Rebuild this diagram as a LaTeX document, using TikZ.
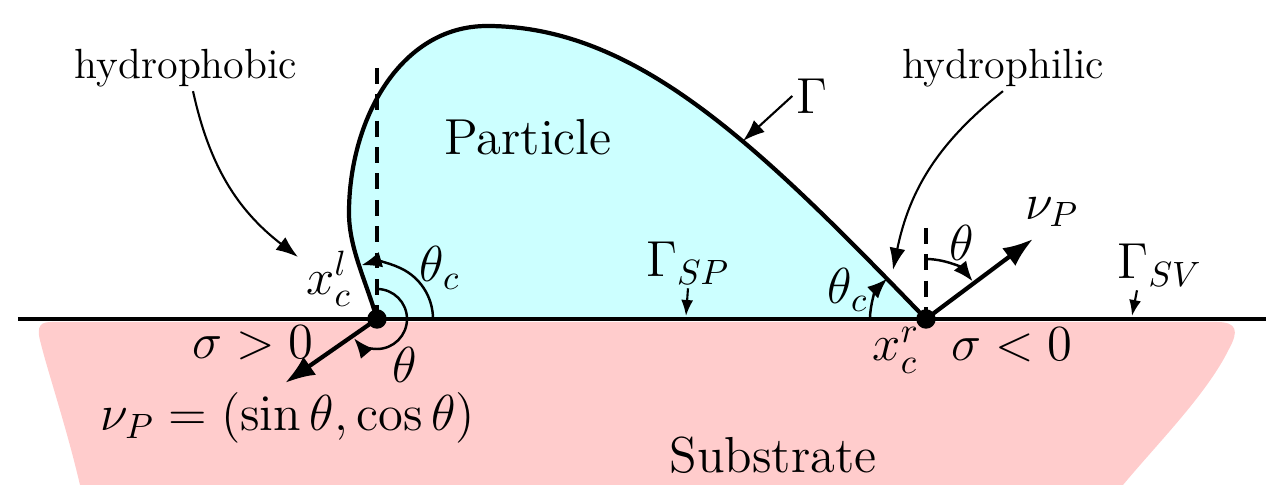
\documentclass[tikz,border=0pt]{standalone}
\usepackage{amsmath, amssymb}
\usepackage{tikz}
\usetikzlibrary{arrows.meta, positioning, calc}
\definecolor{pCyan}{HTML}{CCFFFF}
\definecolor{pPink}{HTML}{FFCCCC}
\tikzset{
  cdot/.style={draw, circle, fill=black, minimum size=1.8mm, inner sep=0pt},
  plabel/.style={inner sep=1pt, font=\Large},
  tlabel/.style={inner sep=1pt, font=\large},
  bound/.style={line width=1.2pt},
  ptr/.style={-{Latex[length=2.2mm, width=1.6mm]}, semithick},
  sptr/.style={-{Latex[length=1.6mm, width=1.2mm]}, semithick},
  nvec/.style={-{Latex[length=3mm, width=2.2mm]}, line width=1.2pt},
  vdash/.style={line width=1.2pt, dash pattern=on 4.5pt off 3pt},
  angarc/.style={-{Latex[length=2mm, width=1.6mm]}, line width=0.7pt},
}

\begin{document}
\begin{tikzpicture}
    \useasboundingbox (-3.77,-1.66) rectangle (8.89,3.19);
    % substrate
    \fill[pPink] (-3.25,-0.03) -- (8.40,-0.03)
      .. controls (8.60,-0.03) and (8.62,-0.12) .. (8.52,-0.30)
      .. controls (8.30,-0.75) and (7.80,-1.25) .. (7.46,-1.66)
      -- (-2.97,-1.66)
      .. controls (-3.10,-1.10) and (-3.30,-0.50) .. (-3.36,-0.25)
      .. controls (-3.42,-0.05) and (-3.35,-0.03) .. (-3.25,-0.03) -- cycle;
    % particle
    \coordinate (xl)  at (0,0);
    \coordinate (xr)  at (5.49,0);
    \coordinate (lft) at (-0.28,1.06);
    \coordinate (top) at (1.10,2.93);
    \coordinate (mid) at (3.66,1.78);
    \fill[pCyan] (xl) .. controls (-0.11,0.38) and (-0.28,0.71) .. (lft)
      .. controls (-0.28,1.99) and (0.23,2.93) .. (top)
      .. controls (2.60,2.93) and (3.82,1.73) .. (xr) -- cycle;
    \draw[bound] (xl) .. controls (-0.11,0.38) and (-0.28,0.71) .. (lft)
      .. controls (-0.28,1.99) and (0.23,2.93) .. (top)
      .. controls (2.60,2.93) and (3.82,1.73) .. (xr);
    \coordinate (sl) at (-3.59,0);
    \coordinate (sr) at (8.89,0);
    \draw[bound] (sl) -- (sr);
    \coordinate (vl) at (0,2.51);
    \coordinate (vr) at (5.49,0.91);
    \draw[vdash] (vl) -- (xl);
    \draw[vdash] (vr) -- (xr);
    % angles
    \draw[angarc] ([shift={(0:0.56)}]xl) arc[start angle=0, end angle=106, radius=0.56];
    \draw[angarc] ([shift={(90:0.3)}]xl) arc[start angle=90, end angle=-140, radius=0.3];
    \draw[angarc] ([shift={(180:0.56)}]xr) arc[start angle=180, end angle=134, radius=0.56];
    \draw[angarc] ([shift={(90:0.6)}]xr) arc[start angle=90, end angle=39, radius=0.6];
    % normals
    \coordinate (nl) at (-0.92,-0.64);
    \coordinate (nr) at (6.56,0.80);
    \draw[nvec] (xl) -- (nl);
    \draw[nvec] (xr) -- (nr);
    \node[cdot] (dl) at (xl) {};
    \node[cdot] (dr) at (xr) {};
    % labels
    \node[plabel] (tcl)  at (0.63,0.51)   {$\theta_c$};
    \node[plabel] (thl)  at (0.28,-0.46)  {$\theta$};
    \node[plabel] (xcl)  at (-0.48,0.40)  {$x_c^l$};
    \node[plabel] (sgl)  at (-1.24,-0.24) {$\sigma>0$};
    \node[plabel] (nul)  at (-0.89,-0.99) {$\nu_P=(\sin\theta,\cos\theta)$};
    \node[plabel] (part) at (1.51,1.82)   {Particle};
    \node[plabel] (sub)  at (3.96,-1.36)  {Substrate};
    \node[plabel] (gam)  at (4.35,2.23)   {$\Gamma$};
    \node[plabel] (gsp)  at (3.11,0.56)   {$\Gamma_{SP}$};
    \node[plabel] (gsv)  at (7.83,0.54)   {$\Gamma_{SV}$};
    \node[plabel] (xcr)  at (5.19,-0.31)  {$x_c^r$};
    \node[plabel] (sgr)  at (6.35,-0.26)  {$\sigma<0$};
    \node[plabel] (tcr)  at (4.71,0.29)   {$\theta_c$};
    \node[plabel] (thr)  at (5.85,0.76)   {$\theta$};
    \node[plabel] (nur)  at (6.75,1.07)   {$\nu_P$};
    \node[tlabel] (phob) at (-1.91,2.51)  {hydrophobic};
    \node[tlabel] (phil) at (6.26,2.51)   {hydrophilic};
    % pointers
    \coordinate (psp) at (3.09,0.03);
    \coordinate (psv) at (7.55,0.03);
    \coordinate (pl)  at (-0.79,0.62);
    \coordinate (pr)  at (5.16,0.49);
    \draw[ptr] (gam.west) -- (mid);
    \draw[sptr] (gsp.south) -- (psp);
    \draw[sptr] ([xshift=-0.23cm]gsv.south) -- (psv);
    \draw[ptr] ([xshift=2pt]phob.south) to[bend right=20] (pl);
    \draw[ptr] (phil.south) to[bend right=20] (pr);
\end{tikzpicture}
\end{document}
